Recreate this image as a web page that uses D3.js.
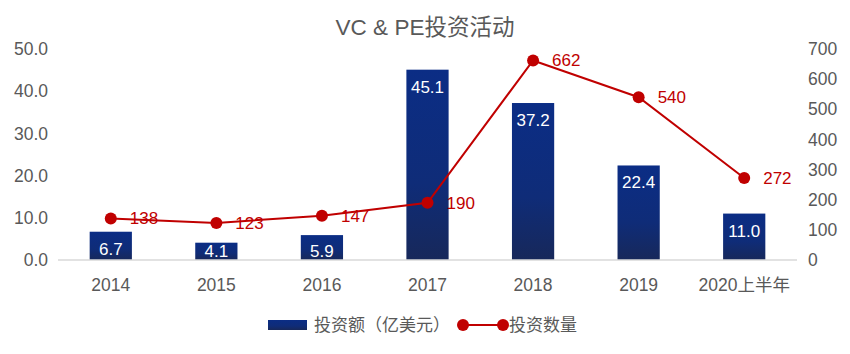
<!DOCTYPE html>
<html>
<head>
<meta charset="utf-8">
<script src="https://cdn.jsdelivr.net/npm/d3@7"></script>
<style>
  body { margin: 0; background: #fff; }
  text { font-family: "Helvetica Neue", "Liberation Sans", "Noto Sans CJK SC", sans-serif; }
</style>
</head>
<body>
<div id="chart"></div>
<script>
var categories = ["2014", "2015", "2016", "2017", "2018", "2019", "2020上半年"];
var amounts = [6.7, 4.1, 5.9, 45.1, 37.2, 22.4, 11.0];
var counts = [138, 123, 147, 190, 662, 540, 272];
var leftTicks = [0, 10, 20, 30, 40, 50];
var rightTicks = [0, 100, 200, 300, 400, 500, 600, 700];

var width = 850, height = 354;
var plot = { left: 58, right: 797, top: 49, bottom: 260 };

var svg = d3.select("#chart").append("svg")
  .attr("width", width)
  .attr("height", height);

var defs = svg.append("defs");
var grad = defs.append("linearGradient")
  .attr("id", "barGrad")
  .attr("x1", 0).attr("y1", 0).attr("x2", 0).attr("y2", 1);
grad.append("stop").attr("offset", "0%").attr("stop-color", "#0b2d85");
grad.append("stop").attr("offset", "60%").attr("stop-color", "#0f2c78");
grad.append("stop").attr("offset", "100%").attr("stop-color", "#17285a");

// 7 equal slots, bars 40% of a slot, centred in it
var x = d3.scaleBand().domain(categories).range([plot.left, plot.right])
  .paddingInner(0.6).paddingOuter(0.3);
var yLeft = d3.scaleLinear().domain([0, 50]).range([plot.bottom, plot.top]);
var yRight = d3.scaleLinear().domain([0, 700]).range([plot.bottom, plot.top]);

// title
svg.append("text")
  .attr("x", 425).attr("y", 35)
  .attr("text-anchor", "middle")
  .style("font-size", "22.5px")
  .style("fill", "#595959")
  .text("VC & PE投资活动");

// left axis labels
svg.append("g").selectAll("text")
  .data(leftTicks)
  .enter().append("text")
  .attr("x", 48)
  .attr("y", function(d) { return yLeft(d); })
  .attr("dy", "0.35em")
  .attr("text-anchor", "end")
  .style("font-size", "17.5px")
  .style("fill", "#595959")
  .text(function(d) { return d3.format(".1f")(d); });

// right axis labels
svg.append("g").selectAll("text")
  .data(rightTicks)
  .enter().append("text")
  .attr("x", 808)
  .attr("y", function(d) { return yRight(d); })
  .attr("dy", "0.35em")
  .attr("text-anchor", "start")
  .style("font-size", "17.5px")
  .style("fill", "#595959")
  .text(function(d) { return d; });

// bars
var data = categories.map(function(c, i) { return { cat: c, amount: amounts[i], count: counts[i] }; });

svg.append("g").selectAll("rect")
  .data(data)
  .enter().append("rect")
  .attr("x", function(d) { return x(d.cat); })
  .attr("width", x.bandwidth())
  .attr("y", function(d) { return yLeft(d.amount); })
  .attr("height", function(d) { return yLeft(0) - yLeft(d.amount); })
  .attr("fill", "url(#barGrad)");

// baseline
svg.append("line")
  .attr("x1", plot.left).attr("x2", plot.right)
  .attr("y1", plot.bottom).attr("y2", plot.bottom)
  .attr("stroke", "#d9d9d9")
  .attr("stroke-width", 1.5);

// bar labels
svg.append("g").selectAll("text")
  .data(data)
  .enter().append("text")
  .attr("x", function(d) { return x(d.cat) + x.bandwidth() / 2; })
  .attr("y", function(d) { return Math.min(yLeft(d.amount) + 23, 257); })
  .attr("text-anchor", "middle")
  .style("font-size", "17px")
  .style("fill", "#ffffff")
  .text(function(d) { return d3.format(".1f")(d.amount); });

// x labels
svg.append("g").selectAll("text")
  .data(categories)
  .enter().append("text")
  .attr("x", function(d) { return x(d) + x.bandwidth() / 2; })
  .attr("y", 291)
  .attr("text-anchor", "middle")
  .style("font-size", "17.5px")
  .style("fill", "#595959")
  .text(function(d) { return d; });

// line
var cx = function(d) { return x(d.cat) + x.bandwidth() / 2; };
var line = d3.line()
  .x(cx)
  .y(function(d) { return yRight(d.count); });

svg.append("path")
  .datum(data)
  .attr("d", line)
  .attr("fill", "none")
  .attr("stroke", "#c00000")
  .attr("stroke-width", 2);

svg.append("g").selectAll("circle")
  .data(data)
  .enter().append("circle")
  .attr("cx", cx)
  .attr("cy", function(d) { return yRight(d.count); })
  .attr("r", 6)
  .attr("fill", "#c00000");

svg.append("g").selectAll("text")
  .data(data)
  .enter().append("text")
  .attr("x", function(d) { return cx(d) + 19; })
  .attr("y", function(d) { return yRight(d.count); })
  .attr("dy", "0.35em")
  .style("font-size", "17px")
  .style("fill", "#c00000")
  .text(function(d) { return d.count; });

// legend
var legend = svg.append("g");
legend.append("rect")
  .attr("x", 268).attr("y", 320)
  .attr("width", 39).attr("height", 10)
  .attr("fill", "url(#barGrad)");
legend.append("text")
  .attr("x", 314).attr("y", 325)
  .attr("dy", "0.35em")
  .style("font-size", "17px")
  .style("fill", "#595959")
  .text("投资额（亿美元）");
legend.append("line")
  .attr("x1", 463).attr("x2", 503)
  .attr("y1", 325).attr("y2", 325)
  .attr("stroke", "#c00000").attr("stroke-width", 2);
legend.selectAll("circle")
  .data([463, 503])
  .enter().append("circle")
  .attr("cx", function(d) { return d; })
  .attr("cy", 325)
  .attr("r", 6)
  .attr("fill", "#c00000");
legend.append("text")
  .attr("x", 509).attr("y", 325)
  .attr("dy", "0.35em")
  .style("font-size", "17px")
  .style("fill", "#595959")
  .text("投资数量");
</script>
</body>
</html>
